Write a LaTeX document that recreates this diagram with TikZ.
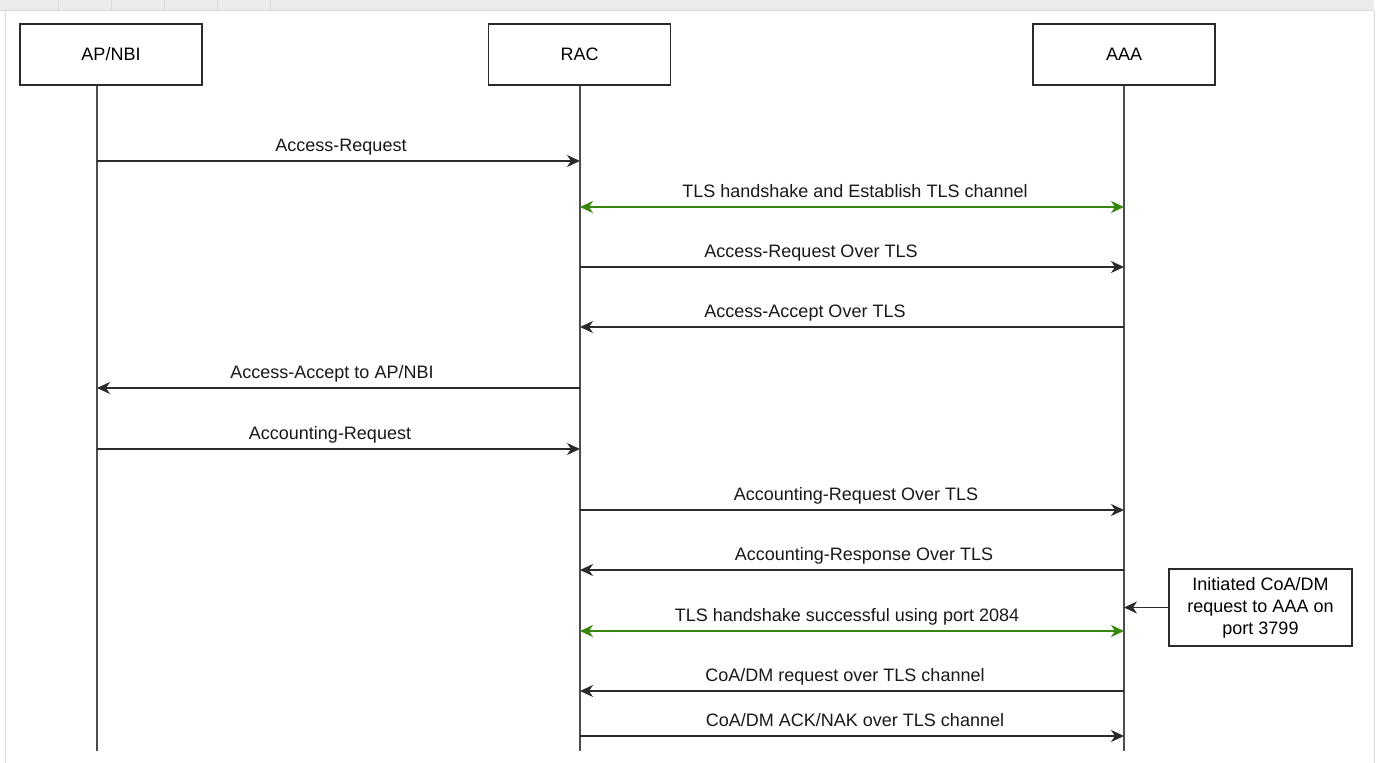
\documentclass[tikz,border=0pt]{standalone}
\usepackage{fontspec}
\setmainfont{Liberation Sans}
\usepackage{tikz}
\usetikzlibrary{arrows.meta,positioning,calc}
\definecolor{lineC}{HTML}{2B2B2B}
\definecolor{lifeC}{HTML}{4D4D4D}
\definecolor{tlsC}{RGB}{55,135,15}
\definecolor{barC}{HTML}{EBEBEB}
\definecolor{edgeC}{HTML}{D9D9D9}

\begin{document}
\begin{tikzpicture}[x=1pt,y=-1pt,
  font=\fontsize{18}{22}\selectfont,
  box/.style={draw=lineC,line width=1.8pt,minimum width=182pt,minimum height=61pt,inner sep=0pt},
  life/.style={draw=lifeC,line width=1.8pt},
  msg/.style={draw=lineC,line width=1.8pt,-{Stealth[length=13pt,width=12pt,inset=4pt]}},
  tls/.style={draw=tlsC,line width=1.8pt,{Stealth[length=13pt,width=12pt,inset=4pt]}-{Stealth[length=13pt,width=12pt,inset=4pt]}},
  lbl/.style={anchor=base,inner sep=0pt,yshift=10pt,text=black!90}]
%Hintergrund und Rahmen des Fensters
\fill[white] (0,0) rectangle (1379,763);
\useasboundingbox (0,0) rectangle (1379,763);
\fill[barC] (0,0) rectangle (1374,10);
\draw[edgeC,line width=1pt] (0,10.5) -- (1374,10.5);
\foreach \sx in {58,111,164,217,270}{
\draw[edgeC,line width=1pt] (\sx,0) -- (\sx,10);
}
\draw[edgeC,line width=1pt] (5,11) -- (5,763);
\draw[edgeC,line width=1pt] (1374,11) -- (1374,763);
%Teilnehmer
\node[box] (apBox) at (111,54.5) {AP/NBI};
\node[box] (racBox) at (579.5,54.5) {RAC};
\node[box] (aaaBox) at (1124,54.5) {AAA};
\coordinate (apEnd) at (97,751);
\coordinate (racEnd) at (580,751);
\coordinate (aaaEnd) at (1124,751);
\draw[life] (apBox.south -| apEnd) -- (apEnd);
\draw[life] (racBox.south -| racEnd) -- (racEnd);
\draw[life] (aaaBox.south -| aaaEnd) -- (aaaEnd);
%Nachrichten
\draw[msg] (apEnd |- 0,161) -- node[lbl,xshift=2.5pt] (m1) {Access-Request} (racEnd |- 0,161);
\draw[tls] (racEnd |- 0,207) -- node[lbl,xshift=3pt] (m2) {TLS handshake and Establish TLS channel} (aaaEnd |- 0,207);
\draw[msg] (racEnd |- 0,267) -- node[lbl,xshift=-41pt] (m3) {Access-Request Over TLS} (aaaEnd |- 0,267);
\draw[msg] (aaaEnd |- 0,327) -- node[lbl,xshift=-47pt] (m4) {Access-Accept Over TLS} (racEnd |- 0,327);
\draw[msg] (racEnd |- 0,388) -- node[lbl,xshift=-6.5pt] (m5) {Access-Accept to AP/NBI} (apEnd |- 0,388);
\draw[msg] (apEnd |- 0,449) -- node[lbl,xshift=-8.5pt] (m6) {Accounting-Request} (racEnd |- 0,449);
\draw[msg] (racEnd |- 0,510) -- node[lbl,xshift=4pt] (m7) {Accounting-Request Over TLS} (aaaEnd |- 0,510);
\draw[msg] (aaaEnd |- 0,570) -- node[lbl,xshift=12pt] (m8) {Accounting-Response Over TLS} (racEnd |- 0,570);
\draw[tls] (racEnd |- 0,631) -- node[lbl,xshift=-5pt] (m9) {TLS handshake successful using port 2084} (aaaEnd |- 0,631);
\draw[msg] (aaaEnd |- 0,691) -- node[lbl,xshift=-7pt] (m10) {CoA/DM request over TLS channel} (racEnd |- 0,691);
\draw[msg] (racEnd |- 0,736) -- node[lbl,xshift=3pt] (m11) {CoA/DM ACK/NAK over TLS channel} (aaaEnd |- 0,736);
%Hinweis rechts
\node[box,minimum width=183pt,minimum height=77pt,align=center] (note) at (1260.5,607.5) {Initiated CoA/DM\\request to AAA on\\port 3799};
\draw[msg] (note.west) -- (note.west -| aaaEnd);
\end{tikzpicture}
\end{document}
